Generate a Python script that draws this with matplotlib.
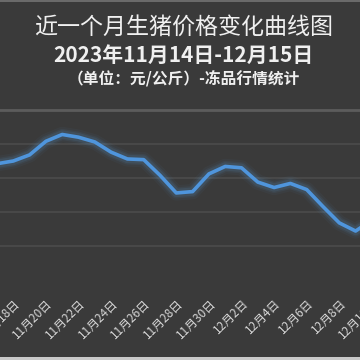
import matplotlib.pyplot as plt
from matplotlib.patches import Rectangle

plt.rcParams['font.family'] = ['Noto Sans CJK SC', 'DejaVu Sans']

# day index: 0 = 11月14日; only the days visible in the cropped view
days = list(range(3, 27))
prices = [14.71, 14.75, 14.84, 15.04, 15.14, 15.10, 15.03, 14.88,
          14.78, 14.77, 14.54, 14.28, 14.30, 14.56, 14.67, 14.65,
          14.44, 14.36, 14.42, 14.33, 14.08, 13.84, 13.72, 13.88]
tick_days = list(range(0, 32, 2))
tick_labels = ['11月14日', '11月16日', '11月18日', '11月20日', '11月22日',
               '11月24日', '11月26日', '11月28日', '11月30日', '12月2日',
               '12月4日', '12月6日', '12月8日', '12月10日', '12月12日',
               '12月14日']
grid_vals = [13.5, 14.0, 14.5, 15.0]

bg = '#3a3a3a'
fig = plt.figure(figsize=(3.6, 3.6), dpi=100, facecolor=bg)

# the plot area is wider than the figure, so the chart looks cropped at both sides
px_left, px_right = -60, 420
ax = fig.add_axes([px_left / 360, (360 - 280) / 360,
                   (px_right - px_left) / 360, 170 / 360])
ax.set_facecolor(bg)

for v in grid_vals:
    ax.axhline(v, color='#4c4c4c', lw=1.2, zorder=1)
ax.axhline(15.5, color='#5c5c5c', lw=2, zorder=1, clip_on=False)

# glow
for lw, a in [(11, 0.05), (8, 0.08), (6, 0.12)]:
    ax.plot(days, prices, color='#5b9bd5', lw=lw, alpha=a,
            solid_capstyle='round', solid_joinstyle='round', zorder=2)
ax.plot(days, prices, color='#4f95dc', lw=2.6, solid_joinstyle='round', zorder=3)

ax.set_xticks(tick_days)
ax.set_xticklabels(tick_labels, rotation=45, ha='right', va='top',
                   rotation_mode='anchor', color='#d6d6d6', fontsize=8.5)
ax.tick_params(axis='x', length=0, pad=12)
ax.set_yticks([])
for s in ax.spines.values():
    s.set_visible(False)

# limits last, so the ticks do not widen them
px_day = 16.3
ax.set_xlim(4 + (px_left - 13.3) / px_day, 4 + (px_right - 13.3) / px_day)
ax.set_ylim(13.0, 15.5)

fig.text(0.51, 1 - 27 / 360, '近一个月生猪价格变化曲线图', ha='center', va='center',
         color='#f0f0f0', fontsize=16.6)
fig.text(0.51, 1 - 55 / 360, '2023年11月14日-12月15日', ha='center', va='center',
         color='#f0f0f0', fontsize=15, fontweight='bold')
fig.text(0.51, 1 - 79 / 360, '（单位：元/公斤）-冻品行情统计', ha='center', va='center',
         color='#f0f0f0', fontsize=11.3, fontweight='bold')

fig.patches.append(Rectangle((0, 0), 1, 3 / 360, transform=fig.transFigure,
                             facecolor='#c8c8c8', edgecolor='none'))
fig.patches.append(Rectangle((0, 1 - 1.5 / 360), 1, 1.5 / 360, transform=fig.transFigure,
                             facecolor='#6a6a6a', edgecolor='none'))

fig.savefig('out.png', dpi=100, facecolor=bg)
